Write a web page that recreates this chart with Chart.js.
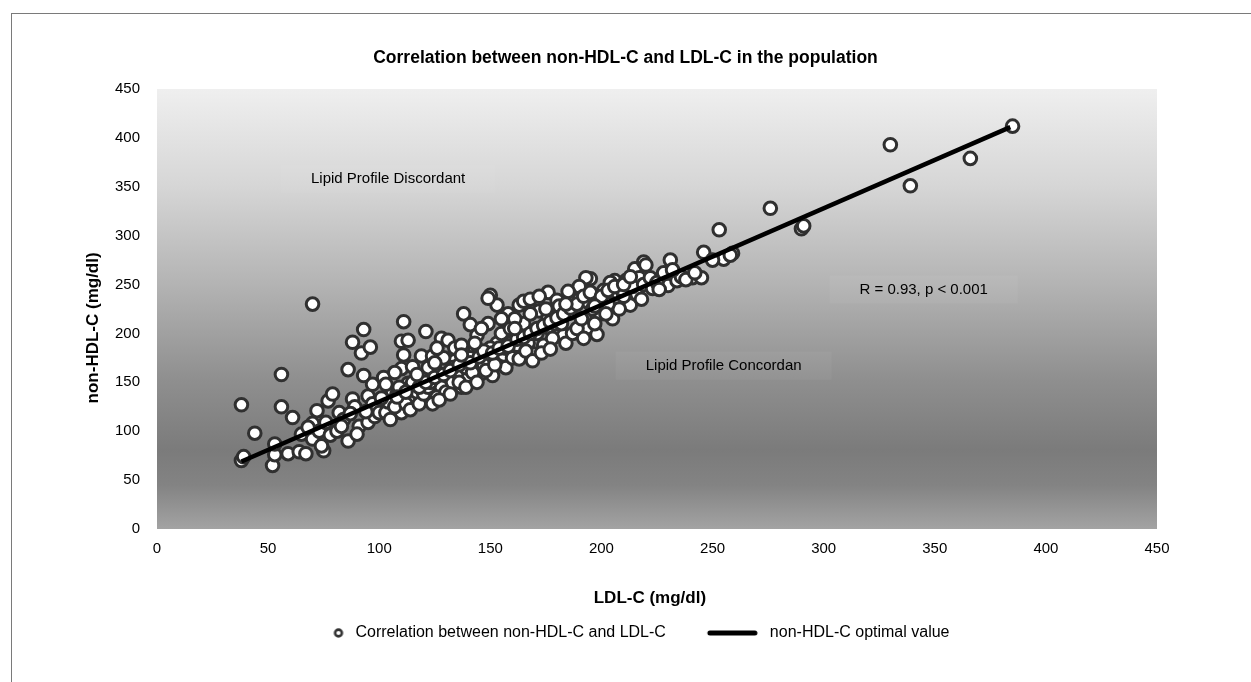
<!DOCTYPE html>
<html>
<head>
<meta charset="utf-8">
<script src="https://cdn.jsdelivr.net/npm/chart.js@4.4.1/dist/chart.umd.min.js"></script>
<style>
html,body{margin:0;padding:0;background:#fff;}
#wrap{position:relative;width:1251px;height:682px;overflow:hidden;background:#fff;}
#frame{position:absolute;left:11px;top:13px;width:1400px;height:800px;border-left:1px solid #7a7a7a;border-top:1px solid #7a7a7a;}
#c{position:absolute;left:0;top:0;}
</style>
</head>
<body>
<div id="wrap"><div id="frame"></div><canvas id="c" width="1251" height="682" style="width:1251px;height:682px"></canvas></div>
<script>
// ---- data (LDL-C on x, non-HDL-C on y, mg/dl) ----
const ldlC = [
  38,38,39,44,52,53,53,56,56,59,61,64,65,
  67,70,70,70,72,73,75,76,77,79,78,74,68,
  82,81,86,88,86,88,93,92,96,93,91,95,95,84,89,97,98,90,83,87,99,97,94,
  102,100,103,110,106,110,111,110,113,115,119,120,116,113,104,107,101,108,112,117,105,114,118,109,103,120,115,111,107,
  121,124,125,128,131,131,137,134,128,138,141,140,140,122,126,130,133,135,124,127,132,136,139,122,129,134,137,123,126,139,133,
  144,143,145,146,150,149,153,151,154,153,158,157,155,148,142,147,150,156,159,144,148,152,157,160,146,155,141,159,149,
  163,164,163,165,170,172,176,176,176,180,183,167,165,168,162,171,174,178,166,169,173,177,179,161,175,168,172,
  185,186,188,190,194,194,195,193,198,198,201,182,184,187,189,191,196,199,192,197,181,190,185,
  207,212,206,211,213,215,217,219,220,205,208,210,203,216,218,202,209,214,204,219,
  222,223,230,231,234,241,245,225,228,236,238,232,226,242,
  246,253,255,259,258,250,
  276,290,291,330,339,366,385,
  108,112,118,121,125,129,132,136,141,145,147,151,154,158,162,165,168,171,174,177,180,183,186,189,192,195,200,203,206,210,213,117,125,137,143,161,184,197
];
const nonHdlC = [
  127,70,74,98,65,76,87,158,125,77,114,79,97,
  77,230,92,108,121,100,80,109,131,138,96,85,104,
  119,100,90,133,163,191,204,180,186,157,105,109,136,112,125,128,115,97,105,118,122,148,120,
  155,119,119,119,141,164,212,192,193,166,177,155,131,149,130,125,134,138,128,140,112,122,128,145,148,138,150,178,160,
  202,177,163,195,193,155,145,172,145,220,209,157,172,145,135,140,150,160,128,132,138,150,165,165,175,185,188,150,185,145,165,
  198,182,182,159,239,210,229,157,172,190,220,165,200,175,160,168,185,178,190,150,162,168,185,175,205,215,175,205,236,
  229,203,174,233,179,223,242,206,216,234,198,190,210,220,188,200,188,195,182,172,180,184,210,215,225,235,238,
  223,221,239,235,232,206,256,257,218,199,244,210,190,200,205,215,225,235,195,210,228,248,243,
  242,230,254,254,229,266,257,273,270,215,225,238,230,240,235,220,245,248,252,250,
  257,246,249,275,254,257,257,252,262,258,255,265,245,262,
  283,306,276,282,280,275,
  328,307,310,393,351,379,412,
  135,140,145,150,155,158,162,168,170,176,182,180,185,187,194,196,200,205,208,212,216,220,226,230,238,242,238,244,248,250,258,158,170,178,190,205,230,228
];
// optimal-value line end points
const lineLdl = [38, 384];
const lineNonHdl = [69, 411];

// axis ticks
const xTicks = [0,50,100,150,200,250,300,350,400,450];
const yTicks = [0,50,100,150,200,250,300,350,400,450];

// in-plot notes (data coordinates)
const noteTexts = ['Lipid Profile Discordant', 'Lipid Profile Concordan', 'R = 0.93, p < 0.001'];
const noteLdl = [104, 255, 345];
const noteNonHdl = [358, 167, 245];

const chartTitle = 'Correlation between non-HDL-C and LDL-C in the population';
const xTitle = 'LDL-C (mg/dl)';
const yTitle = 'non-HDL-C (mg/dl)';
const seriesNames = ['Correlation between non-HDL-C and LDL-C', 'non-HDL-C optimal value'];

// ---- build ----
const FONT = "'Liberation Sans', Arial, sans-serif";
Chart.defaults.font.family = FONT;
Chart.defaults.color = '#000';

const scatterPts = ldlC.map((v, i) => ({x: v, y: nonHdlC[i]}));
const linePts = lineLdl.map((v, i) => ({x: v, y: lineNonHdl[i]}));

const LEG_BOX = 86;
function legendCircle() {
  const c = document.createElement('canvas');
  c.width = LEG_BOX; c.height = 16;
  const g = c.getContext('2d');
  g.beginPath(); g.arc(LEG_BOX - 9, 8, 3.4, 0, Math.PI * 2);
  g.fillStyle = '#fff'; g.fill();
  g.lineWidth = 2.6; g.strokeStyle = '#333'; g.stroke();
  return c;
}
function legendLine() {
  const c = document.createElement('canvas');
  c.width = LEG_BOX; c.height = 10;
  const g = c.getContext('2d');
  g.beginPath(); g.moveTo(34, 5); g.lineTo(LEG_BOX - 7, 5);
  g.lineWidth = 5; g.lineCap = 'round'; g.strokeStyle = '#000'; g.stroke();
  return c;
}
const legMarks = [legendCircle(), legendLine()];

const bgPlugin = {
  id: 'bgGradient',
  beforeDatasetsDraw(chart) {
    const {ctx, chartArea: {left, top, right, bottom}} = chart;
    const g = ctx.createLinearGradient(0, top, 0, bottom);
    g.addColorStop(0, '#efefef');
    g.addColorStop(0.22, '#d6d6d6');
    g.addColorStop(0.44, '#b4b4b4');
    g.addColorStop(0.66, '#8f8f8f');
    g.addColorStop(0.82, '#7b7b7b');
    g.addColorStop(0.9, '#838383');
    g.addColorStop(1, '#a3a3a3');
    ctx.save();
    ctx.fillStyle = g;
    ctx.fillRect(left, top, right - left, bottom - top);
    // notes
    const xs = chart.scales.x, ys = chart.scales.y;
    ctx.font = '15px ' + FONT;
    ctx.textAlign = 'center';
    ctx.textBaseline = 'middle';
    noteTexts.forEach((t, i) => {
      const px = xs.getPixelForValue(noteLdl[i]);
      const py = ys.getPixelForValue(noteNonHdl[i]);
      const w = ctx.measureText(t).width;
      ctx.fillStyle = 'rgba(255,255,255,0.045)';
      ctx.fillRect(px - w / 2 - 30, py - 14, w + 60, 28);
      ctx.fillStyle = '#000';
      ctx.fillText(t, px, py);
    });
    ctx.restore();
  }
};

new Chart(document.getElementById('c'), {
  type: 'scatter',
  data: {
    datasets: [
      {
        label: seriesNames[0],
        data: scatterPts,
        pointRadius: 6.3,
        pointBorderWidth: 3,
        pointBackgroundColor: '#ffffff',
        pointBorderColor: '#303030',
        order: 2
      },
      {
        type: 'line',
        label: seriesNames[1],
        data: linePts,
        borderColor: '#000',
        borderWidth: 4.5,
        pointRadius: 0,
        fill: false,
        order: 1
      }
    ]
  },
  options: {
    responsive: false,
    animation: false,
    events: [],
    layout: {padding: {top: 0, left: 0, right: 0, bottom: 31}},
    plugins: {
      tooltip: {enabled: false},
      title: {
        display: true,
        text: chartTitle,
        color: '#000',
        font: {size: 17.5, weight: 'bold', family: FONT},
        padding: {top: 48, bottom: 20}
      },
      legend: {
        position: 'bottom',
        labels: {
          usePointStyle: true,
          pointStyleWidth: LEG_BOX,
          padding: 10,
          color: '#000',
          font: {size: 16, family: FONT},
          generateLabels() {
            return seriesNames.map((n, i) => ({
              text: i === seriesNames.length - 1 ? n + '\u00a0'.repeat(9) : n,
              datasetIndex: i,
              pointStyle: legMarks[i],
              fillStyle: '#fff',
              strokeStyle: '#000',
              lineWidth: 0,
              hidden: false,
              fontColor: '#000',
              rotation: 0
            }));
          }
        }
      }
    },
    scales: {
      x: {
        type: 'linear',
        position: 'bottom',
        min: xTicks[0],
        max: xTicks[xTicks.length - 1],
        afterBuildTicks(s) { s.ticks = xTicks.map(v => ({value: v})); },
        afterFit(s) { s.height = 86; },
        grid: {display: false, drawTicks: false},
        border: {display: false},
        ticks: {padding: 11, font: {size: 15}, color: '#000'},
        title: {
          display: true,
          text: xTitle + '\u00a0'.repeat(3),
          color: '#000',
          font: {size: 17, weight: 'bold'},
          padding: {top: 0, bottom: 6}
        }
      },
      y: {
        type: 'linear',
        position: 'left',
        min: yTicks[0],
        max: yTicks[yTicks.length - 1],
        afterBuildTicks(s) { s.ticks = yTicks.map(v => ({value: v})); },
        afterFit(s) { s.width = 157; },
        grid: {display: false, drawTicks: false},
        border: {display: false},
        ticks: {padding: 17, font: {size: 15}, color: '#000'},
        title: {
          display: true,
          text: yTitle + '\u00a0'.repeat(8),
          color: '#000',
          font: {size: 17, weight: 'bold'},
          padding: {top: 83, bottom: 0}
        }
      },
      yRight: {
        type: 'linear',
        position: 'right',
        display: true,
        afterFit(s) { s.width = 94; },
        grid: {display: false, drawTicks: false},
        border: {display: false},
        ticks: {display: false}
      }
    }
  },
  plugins: [bgPlugin]
});
</script>
</body>
</html>
